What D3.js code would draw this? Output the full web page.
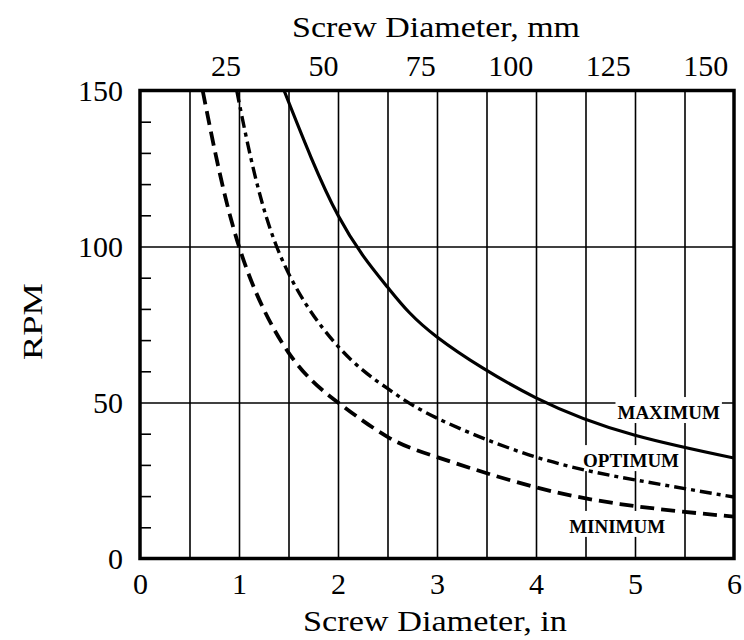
<!DOCTYPE html>
<html>
<head>
<meta charset="utf-8">
<script src="https://cdn.jsdelivr.net/npm/d3@7"></script>
<style>
  html, body { margin: 0; padding: 0; background: #fff; }
  svg { display: block; font-family: "Liberation Serif", "Times New Roman", serif; }
</style>
</head>
<body>
<svg id="chart" width="744" height="640"></svg>
<script>
// ---- data ----
const inchTicks = [0, 1, 2, 3, 4, 5, 6];
const mmTicks = [25, 50, 75, 100, 125, 150];
const rpmTicks = [0, 50, 100, 150];
const rpmMinorTicks = [10, 20, 30, 40, 60, 70, 80, 90, 110, 120, 130, 140];
const gridInch = [0.5, 1, 1.5, 2, 2.5, 3, 3.5, 4, 4.5, 5, 5.5];
const gridRpm = [50, 100];

const maxD   = [1.455, 2, 2.5, 3, 4, 5, 6];
const maxRpm = [150, 110, 87, 71, 51.5, 39.5, 32.2];

const optD   = [0.977, 1.38, 2, 2.5, 3, 4, 5, 6];
const optRpm = [150, 100, 68, 54.5, 45, 32.5, 25.2, 19.7];

const minD   = [0.633, 1, 1.5, 2, 2.5, 3, 4, 5, 6];
const minRpm = [150, 100, 66, 50, 39, 32.5, 22.8, 16.8, 13.4];

const seriesNames = ["MAXIMUM", "OPTIMUM", "MINIMUM"];
const labelD   = [5.34, 4.96, 4.82];
const labelRpm = [44.7, 29.3, 8.2];

// ---- layout ----
const svg = d3.select("#chart");
const L = 140, R = 734, T = 90.5, B = 558.5;
const x = d3.scaleLinear().domain([0, 6]).range([L, R]);
const xmm = d3.scaleLinear().domain([0, 6 * 25.4]).range([L, R]);
const y = d3.scaleLinear().domain([0, 150]).range([B, T]);

const gridG = svg.append("g");
// vertical gridlines
gridG.append("g")
  .attr("transform", `translate(0,${B})`)
  .call(d3.axisBottom(x).tickValues(gridInch).tickSize(-(B - T)).tickFormat(""))
  .call(g => g.select(".domain").remove())
  .call(g => g.selectAll("line").attr("stroke", "#000").attr("stroke-width", 1.6));

// horizontal gridlines
gridG.append("g")
  .attr("transform", `translate(${L},0)`)
  .call(d3.axisRight(y).tickValues(gridRpm).tickSize(R - L).tickFormat(""))
  .call(g => g.select(".domain").remove())
  .call(g => g.selectAll("line").attr("stroke", "#000").attr("stroke-width", 1.6));

// minor ticks on left inside
gridG.append("g")
  .attr("transform", `translate(${L},0)`)
  .call(d3.axisRight(y).tickValues(rpmMinorTicks).tickSize(11).tickFormat(""))
  .call(g => g.select(".domain").remove())
  .call(g => g.selectAll("line").attr("stroke", "#000").attr("stroke-width", 1.6));

// label boxes (white, interrupt gridlines)
const boxG = svg.append("g");
const curveG = svg.append("g");
const textG = svg.append("g");

const labels = seriesNames.map((name, i) =>
  textG.append("text")
    .attr("x", x(labelD[i]))
    .attr("y", y(labelRpm[i]))
    .attr("text-anchor", "middle")
    .attr("font-size", 19)
    .attr("font-weight", "bold")
    .attr("fill", "#000")
    .text(name)
);
labels.forEach(t => {
  const bb = t.node().getBBox();
  boxG.append("rect")
    .attr("x", bb.x - 2).attr("y", bb.y - 5)
    .attr("width", bb.width + 4).attr("height", bb.height + 5)
    .attr("fill", "#fff");
});

// curves
svg.append("clipPath").attr("id", "plotclip")
  .append("rect").attr("x", L).attr("y", T).attr("width", R - L).attr("height", B - T);
curveG.attr("clip-path", "url(#plotclip)");

const line = d3.line().x(d => x(d[0])).y(d => y(d[1])).curve(d3.curveNatural);
const curves = [
  { d: maxD, r: maxRpm, dash: null, w: 3.2 },
  { d: optD, r: optRpm, dash: "12,5,4,5", w: 3.4 },
  { d: minD, r: minRpm, dash: "14,7", w: 3.8 }
];
curves.forEach(c => {
  curveG.append("path")
    .datum(c.d.map((v, i) => [v, c.r[i]]))
    .attr("d", line)
    .attr("fill", "none")
    .attr("stroke", "#000")
    .attr("stroke-width", c.w)
    .attr("stroke-dasharray", c.dash);
});

// plot border
svg.append("rect")
  .attr("x", L).attr("y", T).attr("width", R - L).attr("height", B - T)
  .attr("fill", "none").attr("stroke", "#000").attr("stroke-width", 3.5);

// bottom axis labels
svg.append("g")
  .attr("transform", `translate(0,${B})`)
  .call(d3.axisBottom(x).tickValues(inchTicks).tickSize(0).tickPadding(14).tickFormat(d3.format("d")))
  .call(g => g.select(".domain").remove())
  .call(g => g.selectAll("text").attr("font-size", 30).attr("font-family", "Liberation Serif").attr("fill", "#000"));

// top axis labels (mm)
svg.append("g")
  .attr("transform", `translate(0,76)`)
  .call(d3.axisTop(xmm).tickValues(mmTicks).tickSize(0).tickPadding(0).tickFormat(d3.format("d")))
  .call(g => g.select(".domain").remove())
  .call(g => g.selectAll("text").attr("font-size", 30).attr("font-family", "Liberation Serif")
    .attr("fill", "#000").attr("text-anchor", "end").attr("dx", 3));

// left axis labels
svg.append("g")
  .attr("transform", `translate(${L},0)`)
  .call(d3.axisLeft(y).tickValues(rpmTicks).tickSize(0).tickPadding(17).tickFormat(d3.format("d")))
  .call(g => g.select(".domain").remove())
  .call(g => g.selectAll("text").attr("font-size", 30).attr("font-family", "Liberation Serif").attr("fill", "#000"));

// titles
svg.append("text")
  .attr("x", (L + R) / 2 - 1).attr("y", 37)
  .attr("text-anchor", "middle").attr("font-size", 29)
  .attr("textLength", 288).attr("lengthAdjust", "spacingAndGlyphs")
  .text("Screw Diameter, mm");

svg.append("text")
  .attr("x", (L + R) / 2 - 2).attr("y", 631)
  .attr("text-anchor", "middle").attr("font-size", 29)
  .attr("textLength", 264).attr("lengthAdjust", "spacingAndGlyphs")
  .text("Screw Diameter, in");

svg.append("text")
  .attr("transform", `translate(42,${(T + B) / 2 - 3}) rotate(-90)`)
  .attr("text-anchor", "middle").attr("font-size", 28)
  .attr("textLength", 77).attr("lengthAdjust", "spacingAndGlyphs")
  .text("RPM");
</script>
</body>
</html>
